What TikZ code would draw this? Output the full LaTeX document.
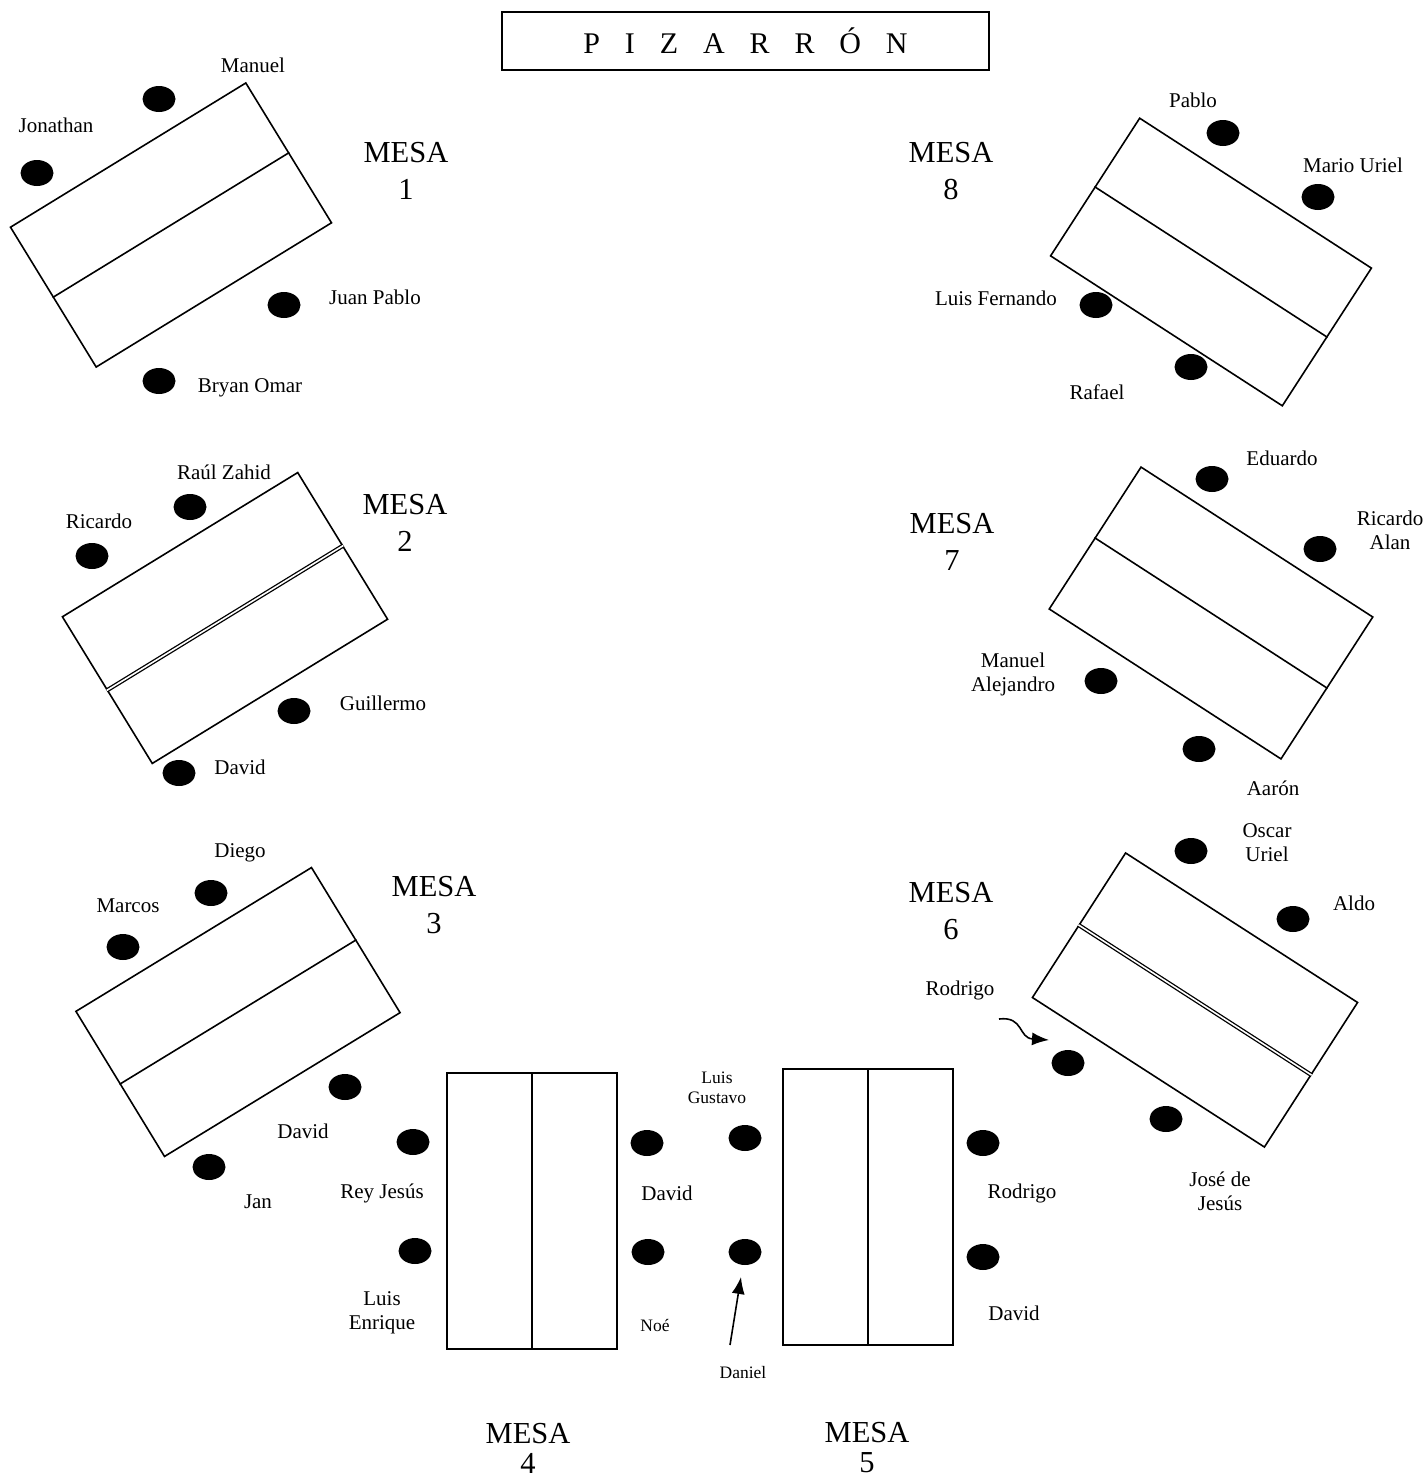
\documentclass[tikz,border=0pt]{standalone}
\usepackage{fontspec}
\setmainfont{Liberation Serif}
\usetikzlibrary{arrows.meta,shapes.geometric}

\begin{document}
\begin{tikzpicture}[x=1pt,y=-1pt,
  every node/.style={font=\fontsize{21}{24}\selectfont,align=center},
  tabla/.style={draw,line width=1.6pt,minimum width=276pt,
    minimum height=#1pt,inner sep=0pt},
  seat/.style={ellipse,fill,minimum width=33pt,minimum height=26pt,
    inner sep=0pt},
  chico/.style={font=\fontsize{17.5}{20}\selectfont},
  mesalbl/.style={font=\fontsize{30.5}{37}\selectfont},
  mesabajo/.style={font=\fontsize{30.5}{30}\selectfont},
  div/.style={line width=1.6pt},
  divdoble/.style={double,line width=1.3pt,double distance=1.6pt},
  flecha/.style={line width=1.6pt,-{Latex[length=17pt,width=13pt]}}]
\useasboundingbox (0,0) rectangle (1427,1478);
% pizarron
\node[draw,line width=1.6pt,minimum width=487pt,minimum height=58pt,
  font=\fontsize{30}{36}\selectfont] (piz) at (745.5,41)
  {P\hspace{.83em}I\hspace{.83em}Z\hspace{.83em}A\hspace{.83em}R%
   \hspace{.83em}R\hspace{.83em}Ó\hspace{.83em}N};
% mesas
\node[tabla=164,rotate=31.5] (t1) at (171,225) {};
\node[tabla=172,rotate=31.5] (t2) at (225,618) {};
\node[tabla=170,rotate=31.4] (t3) at (238,1012) {};
\node[tabla=170,rotate=90] (t4) at (532,1211) {};
\node[tabla=170,rotate=90] (t5) at (868,1207) {};
\node[tabla=172,rotate=-32.8] (t6) at (1195,1000) {};
\node[tabla=169,rotate=-32.9] (t7) at (1211,613) {};
\node[tabla=164,rotate=-32.9] (t8) at (1211,262) {};
\foreach \i in {1,3,4,5,7,8} {\draw[div] (t\i.west) -- (t\i.east);}
\foreach \i in {2,6} {\draw[divdoble] (t\i.west) -- (t\i.east);}
\node[mesalbl] (l1) at (406,171) {MESA\\1};
\node[mesalbl] (l2) at (405,523) {MESA\\2};
\node[mesalbl] (l3) at (434,905) {MESA\\3};
\node[mesabajo] (l4) at (528,1448) {MESA\\4};
\node[mesabajo] (l5) at (867,1448) {MESA\\5};
\node[mesalbl] (l6) at (951,911) {MESA\\6};
\node[mesalbl] (l7) at (952,542) {MESA\\7};
\node[mesalbl] (l8) at (951,171) {MESA\\8};
% mesa 1
\node[seat] (s1a) at (159,99) {}; \node (n1a) at (253,65) {Manuel};
\node[seat] (s1b) at (37,173) {}; \node (n1b) at (56,125) {Jonathan};
\node[seat] (s1c) at (284,305) {}; \node (n1c) at (375,297) {Juan Pablo};
\node[seat] (s1d) at (159,381) {}; \node (n1d) at (250,388) {Bryan Omar};
% mesa 2
\node[seat] (s2a) at (190,507) {}; \node (n2a) at (224,472) {Raúl Zahid};
\node[seat] (s2b) at (92,556) {}; \node (n2b) at (99,521) {Ricardo};
\node[seat] (s2c) at (294,711) {}; \node (n2c) at (383,703) {Guillermo};
\node[seat] (s2d) at (179,773) {}; \node (n2d) at (240,767) {David};
% mesa 3
\node[seat] (s3a) at (211,893) {}; \node (n3a) at (240,853) {Diego};
\node[seat] (s3b) at (123,947) {}; \node (n3b) at (128,906) {Marcos};
\node[seat] (s3c) at (345,1087) {}; \node (n3c) at (303,1131) {David};
\node[seat] (s3d) at (209,1167) {}; \node (n3d) at (258,1202) {Jan};
% mesa 4
\node[seat] (s4a) at (413,1142) {}; \node (n4a) at (382,1193) {Rey Jesús};
\node[seat] (s4b) at (415,1251) {};
\node (n4b) at (382,1313) {Luis\\Enrique};
\node[seat] (s4c) at (647,1143) {}; \node (n4c) at (667,1193) {David};
\node[seat] (s4d) at (648,1252) {}; \node[chico] (n4d) at (655,1325) {Noé};
% mesa 5
\node[seat] (s5a) at (745,1138) {};
\node[chico] (n5a) at (717,1088) {Luis\\Gustavo};
\node[seat] (s5b) at (745,1252) {};
\node[chico] (n5b) at (743,1372) {Daniel};
\node[seat] (s5c) at (983,1143) {}; \node (n5c) at (1022,1193) {Rodrigo};
\node[seat] (s5d) at (983,1257) {}; \node (n5d) at (1014,1313) {David};
\coordinate (danA) at (730,1345);
\draw[flecha,shorten >=12pt] (danA) -- (s5b);
% mesa 6
\node[seat] (s6a) at (1191,851) {};
\node (n6a) at (1267,843) {Oscar\\Uriel};
\node[seat] (s6b) at (1293,919) {}; \node (n6b) at (1354,903) {Aldo};
\node[seat] (s6c) at (1068,1063) {}; \node (n6c) at (960,990) {Rodrigo};
\node[seat] (s6d) at (1166,1119) {};
\node (n6d) at (1220,1191) {José de\\Jesús};
\coordinate (rodA) at (999,1019);
\coordinate (rodB) at (1049,1040);
\draw[flecha] (rodA) .. controls (1024,1016) and (1018,1038) .. (rodB);
% mesa 7
\node[seat] (s7a) at (1212,479) {}; \node (n7a) at (1282,458) {Eduardo};
\node[seat] (s7b) at (1320,549) {};
\node (n7b) at (1390,530) {Ricardo\\Alan};
\node[seat] (s7c) at (1101,681) {};
\node (n7c) at (1013,674) {Manuel\\Alejandro};
\node[seat] (s7d) at (1199,749) {}; \node (n7d) at (1273,788) {Aarón};
% mesa 8
\node[seat] (s8a) at (1223,133) {}; \node (n8a) at (1193,100) {Pablo};
\node[seat] (s8b) at (1318,197) {}; \node (n8b) at (1353,165) {Mario Uriel};
\node[seat] (s8c) at (1096,305) {}; \node (n8c) at (996,298) {Luis Fernando};
\node[seat] (s8d) at (1191,367) {}; \node (n8d) at (1097,392) {Rafael};
\end{tikzpicture}
\end{document}
